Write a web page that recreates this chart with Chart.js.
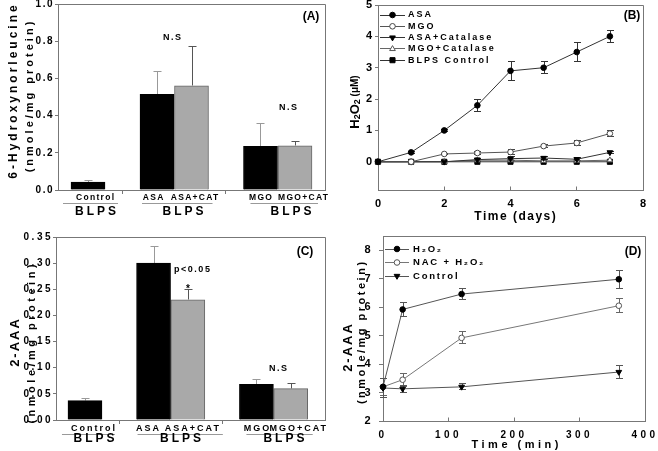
<!DOCTYPE html>
<html lang="en">
<head>
<meta charset="UTF-8">
<title>BLPS oxidation markers</title>
<style>
  body { margin: 0; background: #fff; }
  #figure { position: relative; width: 658px; height: 451px; overflow: hidden; background: #fff; }
  #figure canvas { position: absolute; }
</style>
<script src="https://cdn.jsdelivr.net/npm/chart.js"></script>
</head>
<body>
<div id="figure">
  <canvas id="chartA" width="345" height="225" style="left:0;top:0"></canvas>
  <canvas id="chartC" width="345" height="226" style="left:0;top:225px"></canvas>
  <canvas id="chartB" width="328" height="225" style="left:330px;top:0"></canvas>
  <canvas id="chartD" width="328" height="226" style="left:330px;top:225px"></canvas>
</div>
<script>
const FONT = '"Liberation Sans", Arial, Helvetica, sans-serif';
const AXIS = '#777';

// bar panels (A) and (C): slots 1 and 4 are the gaps between groups
const barLabels = ['Control', 'ASA', 'ASA+CAT', 'MGO', 'MGO+CAT'];
const barSlots = [0, 2, 3, 5, 6];
const blackBars = [0, 1, 3];
const grayBars = [2, 4];
const barGroups = [[0], [1, 2], [3, 4]];
const groupName = 'BLPS';
const groupTicks = [1, 4];

// (A) 6-hydroxynorleucine
const hnlBlack = [0.043, 0.515, 0.235];
const hnlBlackErr = [0.009, 0.12, 0.125];
const hnlGray = [0.56, 0.238];
const hnlGrayErr = [0.21, 0.022];
const hnlTicks = [0, 0.2, 0.4, 0.6, 0.8, 1.0];

// (C) 2-AAA
const aaaBlack = [0.037, 0.300, 0.068];
const aaaBlackErr = [0.004, 0.031, 0.009];
const aaaGray = [0.230, 0.060];
const aaaGrayErr = [0.020, 0.009];
const aaaBarTicks = [0, 0.05, 0.10, 0.15, 0.20, 0.25, 0.30, 0.35];

// (B) H2O2 vs time
const days = [0, 1, 2, 3, 4, 5, 6, 7];
const h2o2Names = ['ASA', 'MGO', 'ASA+Catalase', 'MGO+Catalase', 'BLPS Control'];
const h2o2Asa = [0, 0.3, 1.0, 1.8, 2.9, 3.0, 3.5, 4.0];
const h2o2AsaErr = [0, 0.03, 0.04, 0.2, 0.3, 0.2, 0.3, 0.2];
const h2o2Mgo = [0, 0, 0.25, 0.28, 0.31, 0.5, 0.6, 0.9];
const h2o2MgoErr = [0, 0, 0.03, 0.04, 0.08, 0.04, 0.08, 0.09];
const h2o2AsaCat = [0, 0, 0, 0.07, 0.1, 0.12, 0.08, 0.3];
const h2o2AsaCatErr = [0, 0, 0, 0.05, 0.06, 0.06, 0.05, 0.03];
const h2o2MgoCat = [0, 0, 0, 0.05, 0.05, 0.03, 0.03, 0.05];
const h2o2Blps = [0, 0, 0, 0, 0, 0, 0, 0];
const dayTicks = [0, 2, 4, 6, 8];
const h2o2Ticks = [0, 1, 2, 3, 4, 5];

// (D) 2-AAA vs time
const minutes = [0, 30, 120, 360];
const aaaNames = ['H₂O₂', 'NAC + H₂O₂', 'Control'];
const aaaH2o2 = [3.2, 5.92, 6.46, 6.98];
const aaaH2o2Err = [0.3, 0.24, 0.2, 0.32];
const aaaNac = [3.2, 3.45, 4.92, 6.05];
const aaaNacErr = [0.3, 0.23, 0.21, 0.24];
const aaaCtl = [3.16, 3.13, 3.2, 3.72];
const aaaCtlErr = [0.33, 0.13, 0.11, 0.23];
const minuteTicks = [0, 100, 200, 300, 400];
const aaaTicks = [2, 3, 4, 5, 6, 7, 8];

function alignPx(v) { return Math.round(v - 0.5) + 0.5; }

function fixSize(px) {
  return s => {
    if (s.isHorizontal()) s.height = px; else s.width = px;
    s.paddingTop = s.paddingBottom = s.paddingLeft = s.paddingRight = 0;
  };
}
function setTicks(values) {
  return s => { s.ticks = values.map(v => ({ value: v })); };
}

function drawText(ctx, it) {
  ctx.save();
  ctx.font = (it.bold === false ? '' : 'bold ') + it.size + 'px ' + FONT;
  ctx.fillStyle = it.color || '#000';
  ctx.letterSpacing = (it.sp || 0) + 'px';
  ctx.textBaseline = 'middle';
  const align = it.align || 'center';
  ctx.textAlign = align;
  ctx.translate(it.x, it.y);
  if (it.rot) ctx.rotate(it.rot);
  ctx.fillText(it.t, align === 'center' ? (it.sp || 0) / 2 : 0, 0);
  ctx.restore();
}

function drawLegend(chart, lg) {
  const ctx = chart.ctx;
  chart.data.datasets.forEach((ds, i) => {
    const y = lg.y + i * lg.dy;
    ctx.save();
    ctx.strokeStyle = ds.borderColor;
    ctx.lineWidth = 1;
    ctx.beginPath();
    ctx.moveTo(lg.x, alignPx(y));
    ctx.lineTo(lg.x + lg.len, alignPx(y));
    ctx.stroke();
    ctx.fillStyle = ds.pointBackgroundColor;
    ctx.strokeStyle = ds.pointBorderColor;
    Chart.helpers.drawPoint(ctx, {
      pointStyle: ds.pointStyle, rotation: ds.pointRotation || 0,
      radius: ds.pointRadius, borderWidth: 1
    }, lg.x + lg.len / 2, y);
    ctx.restore();
    drawText(ctx, { t: ds.label, x: lg.x + lg.len + lg.gap, y: y, size: lg.size, sp: lg.sp, align: 'left' });
  });
}

// error bars: upper only on bars, both ways on lines
const errorBars = {
  id: 'errorBars',
  beforeDatasetsDraw(chart) {
    const ctx = chart.ctx, ys = chart.scales.y;
    const upperOnly = chart.config.type === 'bar';
    chart.data.datasets.forEach((ds, i) => {
      if (!ds.errors) return;
      const pts = chart.getDatasetMeta(i).data;
      const cap = ds.capHalf || 3.5;
      ctx.save();
      ctx.strokeStyle = ds.errorColor || '#333';
      ctx.lineWidth = 1;
      ctx.beginPath();
      pts.forEach((p, j) => {
        const e = ds.errors[j];
        if (!e) return;
        const v = ds.data[j].y;
        const x = Math.round(p.x) + 0.5;
        const hi = alignPx(ys.getPixelForValue(v + e));
        const lo = alignPx(ys.getPixelForValue(upperOnly ? v : v - e));
        ctx.moveTo(x, hi); ctx.lineTo(x, lo);
        ctx.moveTo(x - cap, hi); ctx.lineTo(x + cap, hi);
        if (!upperOnly) { ctx.moveTo(x - cap, lo); ctx.lineTo(x + cap, lo); }
      });
      ctx.stroke();
      ctx.restore();
    });
  }
};

// frame, inner ticks, legend, labels
function decor(spec) {
  return {
    id: 'decor',
    beforeDraw(chart) { chart.ctx.letterSpacing = spec.tickSpacing + 'px'; },
    afterDraw(chart) {
      const ctx = chart.ctx, a = chart.chartArea;
      ctx.letterSpacing = '0px';
      ctx.save();
      ctx.strokeStyle = AXIS;
      ctx.lineWidth = 1;
      ctx.beginPath();
      const l = alignPx(a.left), r = alignPx(a.right), t = alignPx(a.top), b = alignPx(a.bottom);
      ctx.moveTo(l, t); ctx.lineTo(r, t); ctx.lineTo(r, b);
      if (spec.innerXTicks) {
        const xs = chart.scales.x;
        xs.ticks.forEach(tk => {
          const x = alignPx(xs.getPixelForValue(tk.value));
          ctx.moveTo(x, b); ctx.lineTo(x, b - 4);
        });
      }
      ctx.stroke();
      ctx.restore();
      if (spec.groupAxis) drawGroupAxis(chart, spec.groupAxis);
      if (spec.legend) drawLegend(chart, spec.legend);
      if (spec.custom) spec.custom(chart);
      spec.texts.forEach(it => drawText(ctx, it));
    }
  };
}

// bar names, underlines and the BLPS group names below the bar panels
function drawGroupAxis(chart, g) {
  const ctx = chart.ctx, xs = chart.scales.x;
  const px = i => xs.getPixelForValue(barSlots[i]);
  barLabels.forEach((name, i) => {
    drawText(ctx, { t: name, x: px(i) + g.nudge[i], y: g.nameY, size: g.nameSize, sp: g.nameSp });
  });
  barGroups.forEach((grp, k) => {
    const x0 = px(grp[0]) + g.line[k][0];
    const x1 = px(grp[grp.length - 1]) + g.line[k][1];
    ctx.save();
    ctx.strokeStyle = '#999';
    ctx.lineWidth = 1;
    ctx.beginPath();
    ctx.moveTo(x0, alignPx(g.lineY));
    ctx.lineTo(x1, alignPx(g.lineY));
    ctx.stroke();
    ctx.restore();
    drawText(ctx, { t: groupName, x: px(grp[0]) + g.groupDx[k], y: g.groupY, size: 12, sp: 3 });
  });
}

function tickFont(size) { return { family: FONT, size: size, weight: 'bold' }; }

function barChart(id, black, blackErr, gray, grayErr, yTicks, decimals, geo, spec) {
  return new Chart(document.getElementById(id), {
    type: 'bar',
    data: {
      datasets: [
        { data: blackBars.map((b, i) => ({ x: barSlots[b], y: black[i] })),
          backgroundColor: '#000', borderColor: '#000', borderWidth: 1,
          errors: blackErr, errorColor: '#999', capHalf: 4 },
        { data: grayBars.map((b, i) => ({ x: barSlots[b], y: gray[i] })),
          backgroundColor: '#a9a9a9', borderColor: '#666', borderWidth: 1,
          errors: grayErr, errorColor: '#555', capHalf: 4 }
      ]
    },
    options: {
      responsive: false, animation: false, devicePixelRatio: 1,
      layout: { padding: { top: geo.top, right: geo.right, left: 0, bottom: 0 } },
      datasets: { bar: { grouped: false, barThickness: geo.bar } },
      plugins: { legend: { display: false }, tooltip: { enabled: false } },
      scales: {
        x: {
          type: 'linear', min: geo.xmin, max: geo.xmax, offset: false,
          afterBuildTicks: setTicks(groupTicks), afterFit: fixSize(geo.xh),
          ticks: { display: false },
          grid: { drawOnChartArea: false, offset: false, color: AXIS, tickLength: 4 },
          border: { color: AXIS }
        },
        y: {
          min: yTicks[0], max: yTicks[yTicks.length - 1],
          afterBuildTicks: setTicks(yTicks), afterFit: fixSize(geo.yw),
          ticks: { color: '#000', font: tickFont(10), padding: geo.pad, autoSkip: false,
                   callback: v => v.toFixed(decimals) },
          grid: { drawOnChartArea: false, color: AXIS, tickLength: 3 },
          border: { color: AXIS }
        }
      }
    },
    plugins: [errorBars, decor(spec)]
  });
}

function series(label, xs, ys, errs, style) {
  return Object.assign({
    label: label,
    data: xs.map((x, i) => ({ x: x, y: ys[i] })),
    errors: errs, borderWidth: 1, pointRadius: 2.8, pointBorderWidth: 1,
    pointBorderColor: '#000', pointBackgroundColor: '#000', tension: 0, clip: false
  }, style);
}

function lineChart(id, datasets, xTicks, yTicks, geo, spec) {
  return new Chart(document.getElementById(id), {
    type: 'line',
    data: { datasets: datasets },
    options: {
      responsive: false, animation: false, devicePixelRatio: 1,
      layout: { padding: { top: geo.top, right: geo.right, left: 0, bottom: 0 } },
      plugins: { legend: { display: false }, tooltip: { enabled: false } },
      scales: {
        x: {
          type: 'linear', min: xTicks[0], max: xTicks[xTicks.length - 1],
          afterBuildTicks: setTicks(xTicks), afterFit: fixSize(geo.xh),
          ticks: { color: '#000', font: tickFont(geo.xFont), padding: geo.xPad, maxRotation: 0, autoSkip: false },
          grid: { drawOnChartArea: false, drawTicks: false, color: AXIS },
          border: { color: AXIS }
        },
        y: {
          min: geo.ymin, max: geo.ymax,
          afterBuildTicks: setTicks(yTicks), afterFit: fixSize(geo.yw),
          ticks: { color: '#000', font: tickFont(11), padding: geo.yPad, autoSkip: false },
          grid: { drawOnChartArea: false, color: AXIS, tickLength: geo.yTick },
          border: { color: AXIS }
        }
      }
    },
    plugins: [errorBars, decor(spec)]
  });
}

const UP = -Math.PI / 2;

// (A)
barChart('chartA', hnlBlack, hnlBlackErr, hnlGray, hnlGrayErr, hnlTicks, 1,
  { top: 4, right: 20, xh: 35, yw: 58, xmin: -0.87, xmax: 6.87, bar: 34, pad: 1 },
  {
    tickSpacing: 1.5,
    groupAxis: { nameY: 198, nameSize: 8.5, nameSp: 1.3, nudge: [7, -4, 3, 0, 8],
                 lineY: 203, line: [[-25, 30], [-15, 21], [-10, 23]],
                 groupY: 212, groupDx: [7.5, 26, 30.5] },
    texts: [
      { t: '6-Hydroxynorleucine', x: 14, y: 92, size: 12, sp: 3, rot: UP },
      { t: '(nmole/mg protein)', x: 30, y: 97, size: 11, sp: 3, rot: UP },
      { t: '(A)', x: 311, y: 17, size: 12 },
      { t: 'N.S', x: 172, y: 38, size: 9, sp: 1.5 },
      { t: 'N.S', x: 288, y: 108, size: 9, sp: 1.5 }
    ]
  });

// (C)
barChart('chartC', aaaBlack, aaaBlackErr, aaaGray, aaaGrayErr, aaaBarTicks, 2,
  { top: 12, right: 20, xh: 31, yw: 56, xmin: -0.845, xmax: 7.0, bar: 34, pad: 0 },
  {
    tickSpacing: 2.5,
    groupAxis: { nameY: 204, nameSize: 9, nameSp: 2, nudge: [8, -6, 4, 0, 7],
                 lineY: 209, line: [[-23, 30], [-16, 35], [-10, 22]],
                 groupY: 214, groupDx: [9, 27, 27.5] },
    texts: [
      { t: '2-AAA', x: 15, y: 118, size: 13, sp: 2, rot: UP },
      { t: '(nmole/mg protein)', x: 32, y: 119, size: 11, sp: 3.5, rot: UP },
      { t: '(C)', x: 305, y: 27, size: 12 },
      { t: 'p<0.05', x: 192, y: 45, size: 9, sp: 1.5 },
      { t: '*', x: 188, y: 64, size: 10 },
      { t: 'N.S', x: 278, y: 144, size: 9, sp: 1.5 }
    ]
  });

// (B)
lineChart('chartB', [
    series(h2o2Names[0], days, h2o2Asa, h2o2AsaErr, { borderColor: '#333', errorColor: '#333' }),
    series(h2o2Names[1], days, h2o2Mgo, h2o2MgoErr, { borderColor: '#555', errorColor: '#444', pointBackgroundColor: '#fff', pointBorderColor: '#444' }),
    series(h2o2Names[2], days, h2o2AsaCat, h2o2AsaCatErr, { borderColor: '#333', errorColor: '#333', pointStyle: 'triangle', pointRotation: 180, pointRadius: 3.3 }),
    series(h2o2Names[3], days, h2o2MgoCat, null, { borderColor: '#666', pointStyle: 'triangle', pointRadius: 3.3, pointBackgroundColor: '#fff', pointBorderColor: '#555' }),
    series(h2o2Names[4], days, h2o2Blps, null, { borderColor: '#333', pointStyle: 'rect', pointRadius: 3.6 })
  ], dayTicks, h2o2Ticks,
  { top: 5, right: 15, xh: 35, yw: 48, ymin: -0.9, ymax: 5, xFont: 11, xPad: 7, yPad: 3, yTick: 3 },
  {
    tickSpacing: 0,
    innerXTicks: true,
    legend: { x: 50, y: 15, dy: 11.3, len: 25, gap: 3, size: 9, sp: 2 },
    custom: chart => {
      // H2O2 (uM) axis title with subscripts
      const ctx = chart.ctx;
      const parts = [['H', 'bold 13px', 0], ['2', 'bold 9px', 3], ['O', 'bold 13px', 0], ['2', 'bold 9px', 3], [' (μM)', 'bold 10px', 0]];
      ctx.save();
      ctx.fillStyle = '#000';
      ctx.textBaseline = 'middle';
      ctx.textAlign = 'left';
      let w = 0;
      parts.forEach(p => { ctx.font = p[1] + ' ' + FONT; w += ctx.measureText(p[0]).width; });
      ctx.translate(25, 102);
      ctx.rotate(UP);
      let x = -w / 2;
      parts.forEach(p => {
        ctx.font = p[1] + ' ' + FONT;
        ctx.fillText(p[0], x, p[2]);
        x += ctx.measureText(p[0]).width;
      });
      ctx.restore();
    },
    texts: [
      { t: 'Time (days)', x: 185, y: 217, size: 12, sp: 1.5 },
      { t: '(B)', x: 302, y: 16, size: 12 }
    ]
  });

// (D)
lineChart('chartD', [
    series(aaaNames[0], minutes, aaaH2o2, aaaH2o2Err, { borderColor: '#555', errorColor: '#555' }),
    series(aaaNames[1], minutes, aaaNac, aaaNacErr, { borderColor: '#777', errorColor: '#666', pointBackgroundColor: '#fff', pointBorderColor: '#555' }),
    series(aaaNames[2], minutes, aaaCtl, aaaCtlErr, { borderColor: '#555', errorColor: '#555', pointStyle: 'triangle', pointRotation: 180, pointRadius: 3.3 })
  ], minuteTicks, aaaTicks,
  { top: 11, right: 13, xh: 30, yw: 53, ymin: 2, ymax: 8.5, xFont: 10, xPad: 8, yPad: 5, yTick: 4 },
  {
    tickSpacing: 3.5,
    innerXTicks: true,
    legend: { x: 55, y: 24, dy: 13.5, len: 24, gap: 4, size: 9.5, sp: 1.8 },
    texts: [
      { t: '2-AAA', x: 18, y: 123, size: 13, sp: 2, rot: UP },
      { t: '(nmole/mg protein)', x: 32, y: 108, size: 11, sp: 2.5, rot: UP },
      { t: 'Time (min)', x: 185, y: 220, size: 11, sp: 3.5 },
      { t: '(D)', x: 303, y: 27, size: 12 }
    ]
  });
</script>
</body>
</html>
